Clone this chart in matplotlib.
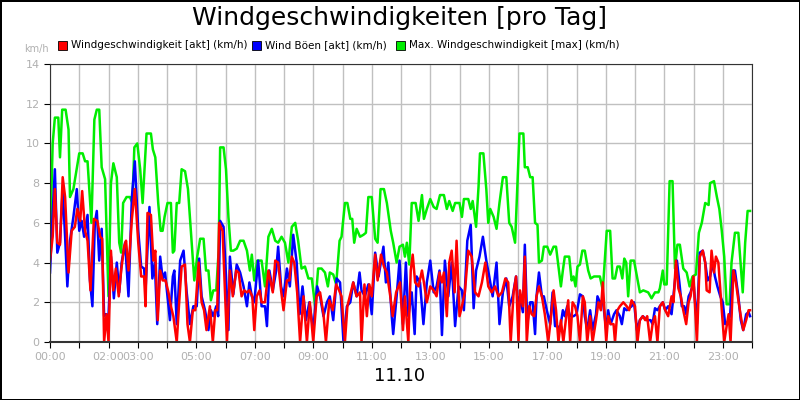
import matplotlib.pyplot as plt
import numpy as np

# minutes since 00:00 and km/h readings
max_minutes = [0, 5.5, 10, 17, 20.5, 25, 32, 38, 41, 48, 60, 67, 72, 77, 85, 91, 96, 101, 106, 113, 120, 125, 130, 137, 142, 146, 150, 157, 164, 169, 173, 179, 185, 190, 198, 207, 211, 216, 222, 227, 231, 235, 241, 248, 252, 255, 260, 265, 270, 277, 283, 289, 296, 302, 308, 315, 320, 325, 330, 335, 341, 346, 349, 356, 361, 366, 371, 376, 383, 390, 397, 404, 410, 414, 419, 425, 434, 441, 448,
               455, 462, 468, 475, 482, 489, 496, 503, 509, 516, 523, 530, 537, 544, 550, 557, 564, 570, 574, 581, 587, 594, 598, 605, 610, 616, 620, 624, 629, 636, 643, 648, 653, 660, 667, 672, 678, 685, 691, 699, 704, 711, 717, 724, 728, 732, 737, 742, 750, 756, 763, 767, 773, 780, 787, 793, 800, 808, 814, 819, 826, 831, 840, 845, 849, 858, 863, 867, 874, 879, 882, 889, 895, 899, 903, 910, 916, 922, 929, 936, 942, 947, 954, 959, 963, 971, 974, 980, 985, 990, 995, 1000, 1003, 1009, 1013, 1020, 1026, 1033, 1038, 1043, 1048, 1052, 1056, 1065, 1070, 1074, 1078, 1082, 1087, 1092, 1097, 1104, 1109, 1116, 1128, 1134, 1142, 1149, 1154, 1159, 1164, 1169, 1174, 1178, 1182, 1186, 1191, 1198, 1204, 1210, 1217, 1227, 1234, 1241, 1248, 1251, 1257, 1260, 1265, 1271, 1277, 1282, 1287, 1292, 1299, 1306, 1312, 1318, 1325, 1331, 1337, 1344, 1351, 1354, 1362, 1368, 1373, 1378, 1383, 1388, 1394, 1398, 1405, 1412, 1421, 1426, 1431, 1436]
max_speed = [4.8, 10, 11.3, 11.3, 9.3, 11.7, 11.7, 10.7, 7.3, 7.7, 9.5, 9.5, 9.1, 9.1, 6, 11.2, 11.7, 11.7, 8.8, 8.2, 2.3, 8, 9, 8.3, 5, 4.5, 7, 7.3, 7.3, 7, 9.8, 10, 8.7, 7, 10.5, 10.5, 9.7, 9.3, 7, 5.6, 5.6, 6.3, 7, 7, 4.5, 4.6, 7, 7, 8.7, 8.6, 7.7, 5.6, 3.1, 4.3, 5.2, 5.2, 3.6, 3.6, 2.1, 2.6, 2.6, 4.6, 9.8, 9.8, 8.7, 6.3, 4.6, 4.6, 4.7, 5.1, 5.1, 4.6, 3.6, 4.4, 3.1, 4.1, 4.1, 2.8, 5.3,
             5.7, 5.1, 5, 5.3, 5, 4, 5.8, 6, 5.1, 3.7, 3.8, 3.2, 3.2, 1.8, 3.7, 3.7, 3.5, 2.8, 3.5, 3.4, 2.9, 5.1, 5.3, 7, 7, 6.2, 6.2, 5, 5.7, 5.3, 5.4, 5.5, 7.3, 7.3, 5.2, 5, 7.7, 7.7, 7, 5.6, 5, 4, 4.8, 4.9, 4.3, 5, 3.9, 7, 7, 6.1, 7.4, 6.2, 6.7, 7.2, 6.8, 6.7, 7.4, 7.4, 6.7, 7.1, 6.6, 7, 7, 6.3, 7.2, 7.2, 6.7, 7.1, 5.8, 7.8, 9.5, 9.5, 7.7, 6, 6.7, 6.3, 5.7, 7, 8.3, 8.3, 6, 5.8, 5, 8, 10.5, 10.5, 8.8, 8.8, 8.3, 8.3, 6, 5.9, 4, 4.1, 4.8, 4.8, 4.4, 4.8, 4.8, 3.8, 2.8, 3.6, 4.3, 4.3, 3.1, 3.3, 2.8, 3.8, 3.9, 4.6, 4.6, 3.6, 3.2, 3.3, 3.3, 2.6, 5.6, 5.6, 3.2, 3.2, 3.8, 3.8, 3.2, 4.2, 4, 2.3, 4.1, 4.1, 3.3, 2.5, 2.6, 2.5, 2.2, 2.5, 2.5, 2.7, 3.6, 2.9, 2.9, 8.1, 8.1, 3.7, 4.9, 4.9, 3.7, 3.5, 2.8, 3.3, 3.4, 5.5, 6, 7, 6.9, 8, 8.1, 7.3, 6.7, 5.6, 4.3, 1.9, 1.9, 4, 5.5, 5.5, 2.5, 5, 6.6, 6.6]

gust_minutes = [0, 5.5, 10, 15, 20.5, 26, 31, 35.6, 41, 48, 55, 60, 65, 70, 77, 82, 87, 92, 96, 101, 106, 111, 115, 120, 125, 131, 137, 142, 147, 154, 161, 168, 174, 181, 187, 193, 196, 204, 210, 215, 220, 226, 231, 236, 241, 246, 252, 255, 260, 267, 274, 280, 287, 294, 301, 306, 311, 318, 325, 330, 335, 341, 345, 349, 356, 361, 366, 369, 376, 383, 390, 397, 404, 409, 414, 419, 427, 434, 441, 445, 450,
                457, 464, 468, 474, 479, 486, 492, 499, 506, 512, 518, 525, 532, 540, 548, 554, 561, 568, 574, 581, 588, 595, 602, 609, 616, 622, 629, 635, 639, 646, 653, 660, 667, 674, 684, 689, 694, 701, 704, 711, 717, 724, 730, 735, 742, 748, 752, 759, 766, 773, 780, 787, 793, 799, 804, 810, 817, 824, 831, 838, 845, 849, 856, 863, 869, 874, 881, 888, 895, 901, 908, 916, 922, 929, 936, 942, 949, 956, 961,
                964, 970, 974, 979, 985, 990, 995, 998, 1003, 1009, 1013, 1019, 1026, 1031, 1036, 1041, 1046, 1052, 1056, 1061, 1067, 1074, 1080, 1087, 1093, 1097, 1102, 1108, 1113, 1120, 1123, 1128, 1134, 1141, 1145, 1150, 1157, 1162, 1169, 1173, 1178, 1183, 1188, 1193, 1198, 1204, 1210, 1216, 1224, 1232, 1236, 1241, 1246, 1251, 1257, 1262, 1268, 1275, 1280, 1286, 1291, 1296, 1301, 1305, 1310, 1314, 1320, 1327, 1333, 1339, 1344, 1349, 1354, 1359, 1364, 1369, 1375, 1380, 1385, 1390, 1395, 1401, 1405, 1412, 1417, 1422, 1428, 1433, 1436]
gust_speed = [3.5, 6.5, 8.7, 4.5, 5, 7.7, 5.3, 2.8, 5.1, 6.3, 7.7, 5.6, 6.1, 5.3, 6.4, 3.1, 1.8, 6, 6.6, 4.1, 5.7, 1.3, 1.4, 1.3, 4.3, 2.2, 4, 2.5, 4, 5, 2.3, 7.3, 9.1, 5.6, 3.8, 3.7, 2.6, 6.8, 3.2, 4, 0.9, 4.3, 3.2, 3.5, 2.3, 1.1, 3.3, 3.6, 0.9, 4.1, 4.6, 2.6, 0.9, 1.8, 1.8, 4.2, 2.3, 1.6, 0.6, 1.6, 1.3, 1.8, 1.3, 6.1, 5.8, 3.3, 0.6, 4.3, 2.4, 3.9, 3.5, 2.8, 1.8, 3, 2.3, 2, 4.1, 1.8, 1.8, 0.8, 3.6,
              2.6, 3.6, 4.8, 2.8, 2.3, 3.7, 2.8, 5.4, 4, 1.4, 2.8, 1.1, 2, 0.6, 2.8, 2.3, 1.3, 2, 2.3, 1.1, 3.2, 3, 0, 1.8, 2, 3, 2.3, 3.5, 2.6, 2.3, 2.9, 1.4, 4.5, 3.3, 4.8, 3, 4, 1.3, 0.4, 2.3, 4.1, 0.9, 4, 1.3, 2.5, 0.4, 3.3, 3, 0.9, 3, 4.1, 2.5, 2.8, 3.6, 0.35, 4.1, 2.3, 4, 0.8, 2.8, 2.6, 1.6, 5.1, 5.9, 1.7, 3.6, 4.3, 5.3, 4.1, 3.3, 2.3, 4, 0.9, 2.5, 3.2, 1.8, 2.3, 3.3, 1.4,
              2.3, 1.5, 4.9, 0.9, 2, 2, 0.4, 2.3, 3.5, 2.3, 2.3, 1.6, 0.9, 2.5, 0.8, 0.8, 0.6, 1.6, 1.3, 1.8, 1.3, 1.3, 1.4, 2.4, 2.3, 1.3, 0.6, 1.6, 0.6, 1.4, 2.3, 2, 2.1, 0.6, 1.6, 0.9, 1.4, 1.6, 1.3, 0.9, 1.7, 1.6, 1.7, 1.8, 2, 0.6, 1.1, 1.3, 1.1, 1.1, 0.9, 1.7, 1.6, 1.8, 2, 1.6, 1.8, 1.4, 2.6, 4.1, 3, 1.8, 1.8, 1.4, 2.3, 2.5, 3, 0.9, 4.5, 4.6, 4, 3.1, 3.3, 4, 3.3, 2.8, 2.3, 2, 0.9, 1, 1.3, 3.6, 3.6, 2.3, 1.1, 0.6, 1.4, 1.5, 1.3]

wind_minutes = [0, 5.5, 10, 15, 20.5, 26, 31, 38, 44.5, 51, 56, 62, 66, 72, 77, 83, 90, 97, 103, 107, 111, 116, 120, 125, 130, 135, 141, 146, 152, 156, 161, 168, 174, 181, 187, 193, 196, 200, 207, 212, 216, 221, 226, 231, 237, 243, 248, 253, 260, 265, 270, 277, 282, 287, 293, 298, 305, 311, 316, 321, 328, 334, 339, 343, 347, 354, 358, 363, 369, 375, 382, 387, 393, 398, 404, 409, 415, 419, 424, 430, 434, 441, 448,
                457, 462, 468, 474, 479, 486, 491, 496, 501, 507, 513, 520, 527, 533, 540, 547, 554, 561, 566, 573, 580, 587, 593, 598, 605, 610, 616, 622, 629, 636, 639, 645, 650, 655, 660, 667, 672, 679, 685, 691, 698, 703, 710, 718, 724, 728, 735, 740, 744, 749, 756, 763, 767, 773, 780, 787, 793, 799, 804, 808, 814, 819, 824, 830, 834, 840, 845, 851, 858, 865, 872, 879, 886, 893, 899, 906, 913, 920, 927, 934, 940, 945, 951, 956, 961,
                964, 970, 974, 978, 983, 988, 993, 998, 1003, 1009, 1015, 1022, 1027, 1033, 1038, 1043, 1048, 1053, 1059, 1063, 1067, 1072, 1077, 1082, 1087, 1093, 1097, 1102, 1108, 1113, 1120, 1125, 1130, 1134, 1141, 1145, 1150, 1156, 1159, 1164, 1169, 1176, 1183, 1188, 1193, 1200, 1205, 1210, 1216, 1221, 1225, 1231, 1236, 1241, 1246, 1251, 1257, 1262, 1268, 1275, 1279, 1284, 1289, 1294, 1299, 1305, 1310, 1314, 1320, 1327, 1333, 1339, 1344, 1347, 1353, 1357, 1362, 1366, 1371, 1375, 1378, 1383, 1388, 1392, 1396, 1402, 1407, 1412, 1417, 1422, 1428, 1433, 1436]
wind_speed = [4.1, 5.3, 7.7, 5, 4.9, 8.3, 7.3, 3.5, 5.6, 5.8, 6.7, 6.1, 7.6, 5.6, 5.1, 2.6, 6.2, 6.1, 5.3, 5.2, 0, 1.4, 0, 4.6, 2.6, 3.7, 2.3, 3.6, 4.8, 5.1, 3.6, 6.2, 7.7, 5, 3.3, 3.3, 1.8, 6.5, 6.4, 4.1, 4.6, 1.1, 3.6, 3.1, 3.1, 2.5, 1.8, 1.3, 0, 2, 3.8, 3.9, 0.9, 0, 1.6, 1.6, 4, 2, 1.6, 0.6, 1.8, 0, 1.6, 1.6, 6, 5.6, 3.1, 0, 3.6, 2.3, 3.6, 3.5, 2.3, 2.6, 2.5, 2.6, 2.3, 0.6, 2.3, 2.6, 2, 2, 3.6,
              2.5, 4.1, 4, 2.6, 1.6, 3.1, 3.1, 4.3, 4, 2.5, 0, 2.3, 0, 2, 0, 2.3, 2.5, 1.4, 0, 2.1, 1.6, 2.9, 2.6, 2.3, 0, 1.8, 2.4, 3, 2.3, 2.5, 0, 2.9, 1.3, 2.9, 2.3, 4.4, 3.1, 4.4, 3.8, 3.5, 2.3, 1.3, 2.5, 3, 0.6, 2.3, 0, 3.6, 4.4, 3, 2.8, 3.6, 3, 2, 2.8, 2.6, 2.3, 3.5, 3, 3.5, 1.3, 4, 4.6, 2.5, 5.1, 1.3, 1.8, 2.5, 4.6, 4.3, 2.5, 2.3, 3, 4, 2.8, 2.5, 2.8, 2.3, 2.5, 3.2, 3, 0, 2.5, 3.3, 0,
              2.6, 1.8, 4.3, 0, 1.8, 1.4, 1.3, 2.3, 2.8, 2.3, 1.4, 0, 1.1, 2.6, 1.6, 0, 1.1, 0, 1.3, 2.1, 0, 2, 1.8, 1.3, 0, 2.3, 2, 0, 1.3, 0, 1.1, 2, 1.6, 3, 0, 1.3, 0.9, 0.9, 0, 1.6, 1.8, 2, 1.8, 1.6, 2.1, 1.8, 0, 1.1, 1.3, 1.1, 1.3, 0, 0.9, 1.3, 0, 1.8, 2, 1.6, 1.3, 2.3, 2, 4.1, 2.7, 2.3, 1.6, 0.9, 2, 2.3, 3.3, 0, 4.3, 4.6, 4, 2.6, 2.5, 4.6, 3.5, 4.3, 4, 2.6, 1.6, 0, 0.8, 1.4, 0, 3.6, 3, 2.1, 1.3, 0.6, 1.1, 1.6, 1.6]

labelled_hours = [0, 2, 3, 5, 7, 9, 11, 13, 15, 17, 19, 21, 23]
series_labels = [
    "Windgeschwindigkeit [akt] (km/h)",
    "Wind Böen [akt] (km/h)",
    "Max. Windgeschwindigkeit [max] (km/h)",
]
series_colors = ["#ff0000", "#0000ff", "#00ee00"]

GREY = "#b0b0b0"

fig = plt.figure(figsize=(8, 4), dpi=100)
fig.patch.set_edgecolor("black")
fig.patch.set_linewidth(2)
ax = fig.add_axes([0.0625, 0.145, 0.8775, 0.695])

ax.plot(max_minutes, max_speed, color=series_colors[2], lw=1.8)
ax.plot(gust_minutes, gust_speed, color=series_colors[1], lw=1.8)
ax.plot(wind_minutes, wind_speed, color=series_colors[0], lw=1.8)

ax.set_xlim(0, 1440)
ax.set_ylim(0, 14)
ax.set_yticks(np.arange(0, 15, 2))
ax.set_xticks(np.arange(0, 1441, 60))
ax.set_xticklabels([f"{h:02d}:00" if h in labelled_hours else "" for h in range(25)])
ax.grid(True, color="#c0c0c0", lw=1)
ax.set_axisbelow(True)
ax.tick_params(colors="black", labelcolor=GREY, labelsize=8, length=4)
for side in ["top", "right", "bottom", "left"]:
    ax.spines[side].set_color("#333333")
ax.spines["bottom"].set_linewidth(1.5)

fig.text(0.5, 0.955, "Windgeschwindigkeiten [pro Tag]", ha="center", va="center", fontsize=18)
fig.text(0.5, 0.06, "11.10", ha="center", va="center", fontsize=13)
fig.text(0.045, 0.878, "km/h", ha="center", va="center", fontsize=7, color=GREY)

# legend row
legend_x = [0.073, 0.315, 0.495]
for x, label, color in zip(legend_x, series_labels, series_colors):
    fig.patches.append(plt.Rectangle((x, 0.876), 0.011, 0.022, transform=fig.transFigure,
                                     facecolor=color, edgecolor="black", lw=0.6))
    fig.text(x + 0.016, 0.887, label, ha="left", va="center", fontsize=7.5)

fig.savefig("out.png", dpi=100, edgecolor=fig.get_edgecolor())
